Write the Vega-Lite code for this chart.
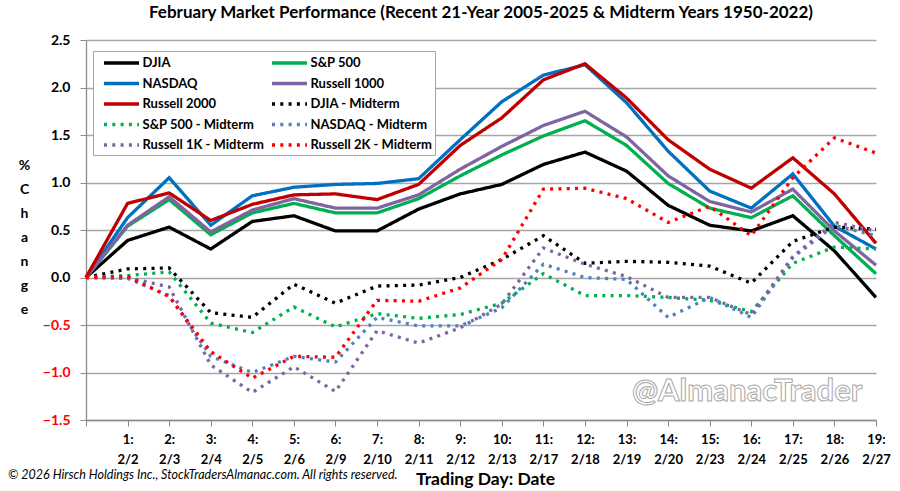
{
  "$schema": "https://vega.github.io/schema/vega-lite/v6.json",
  "width": 790,
  "height": 380,
  "autosize": {"type": "none"},
  "padding": {"left": 86, "top": 40, "right": 24, "bottom": 71},
  "background": "white",
  "config": {
    "font": "Lato, sans-serif",
    "view": {"stroke": null}
  },
  "title": {
    "text": "February Market Performance (Recent 21-Year 2005-2025 & Midterm Years 1950-2022)",
    "fontSize": 17,
    "fontWeight": "bold",
    "color": "black",
    "anchor": "middle",
    "offset": 11
  },
  "layer": [
    {
      "data": {
        "values": [
          {"series":"DJIA","day":0,"value":0},{"series":"DJIA","day":1,"value":0.39},{"series":"DJIA","day":2,"value":0.53},{"series":"DJIA","day":3,"value":0.30},{"series":"DJIA","day":4,"value":0.59},{"series":"DJIA","day":5,"value":0.65},{"series":"DJIA","day":6,"value":0.49},{"series":"DJIA","day":7,"value":0.49},{"series":"DJIA","day":8,"value":0.72},{"series":"DJIA","day":9,"value":0.88},{"series":"DJIA","day":10,"value":0.98},{"series":"DJIA","day":11,"value":1.19},{"series":"DJIA","day":12,"value":1.32},{"series":"DJIA","day":13,"value":1.12},{"series":"DJIA","day":14,"value":0.76},{"series":"DJIA","day":15,"value":0.55},{"series":"DJIA","day":16,"value":0.49},{"series":"DJIA","day":17,"value":0.65},{"series":"DJIA","day":18,"value":0.28},{"series":"DJIA","day":19,"value":-0.21},
          {"series":"S&P 500","day":0,"value":0},{"series":"S&P 500","day":1,"value":0.54},{"series":"S&P 500","day":2,"value":0.82},{"series":"S&P 500","day":3,"value":0.45},{"series":"S&P 500","day":4,"value":0.68},{"series":"S&P 500","day":5,"value":0.78},{"series":"S&P 500","day":6,"value":0.68},{"series":"S&P 500","day":7,"value":0.68},{"series":"S&P 500","day":8,"value":0.83},{"series":"S&P 500","day":9,"value":1.07},{"series":"S&P 500","day":10,"value":1.29},{"series":"S&P 500","day":11,"value":1.49},{"series":"S&P 500","day":12,"value":1.65},{"series":"S&P 500","day":13,"value":1.39},{"series":"S&P 500","day":14,"value":0.99},{"series":"S&P 500","day":15,"value":0.73},{"series":"S&P 500","day":16,"value":0.63},{"series":"S&P 500","day":17,"value":0.86},{"series":"S&P 500","day":18,"value":0.44},{"series":"S&P 500","day":19,"value":0.04},
          {"series":"NASDAQ","day":0,"value":0},{"series":"NASDAQ","day":1,"value":0.63},{"series":"NASDAQ","day":2,"value":1.05},{"series":"NASDAQ","day":3,"value":0.55},{"series":"NASDAQ","day":4,"value":0.86},{"series":"NASDAQ","day":5,"value":0.95},{"series":"NASDAQ","day":6,"value":0.98},{"series":"NASDAQ","day":7,"value":0.99},{"series":"NASDAQ","day":8,"value":1.04},{"series":"NASDAQ","day":9,"value":1.45},{"series":"NASDAQ","day":10,"value":1.85},{"series":"NASDAQ","day":11,"value":2.13},{"series":"NASDAQ","day":12,"value":2.24},{"series":"NASDAQ","day":13,"value":1.84},{"series":"NASDAQ","day":14,"value":1.33},{"series":"NASDAQ","day":15,"value":0.91},{"series":"NASDAQ","day":16,"value":0.73},{"series":"NASDAQ","day":17,"value":1.09},{"series":"NASDAQ","day":18,"value":0.54},{"series":"NASDAQ","day":19,"value":0.30},
          {"series":"Russell 1000","day":0,"value":0},{"series":"Russell 1000","day":1,"value":0.55},{"series":"Russell 1000","day":2,"value":0.85},{"series":"Russell 1000","day":3,"value":0.48},{"series":"Russell 1000","day":4,"value":0.71},{"series":"Russell 1000","day":5,"value":0.83},{"series":"Russell 1000","day":6,"value":0.73},{"series":"Russell 1000","day":7,"value":0.73},{"series":"Russell 1000","day":8,"value":0.87},{"series":"Russell 1000","day":9,"value":1.14},{"series":"Russell 1000","day":10,"value":1.38},{"series":"Russell 1000","day":11,"value":1.60},{"series":"Russell 1000","day":12,"value":1.75},{"series":"Russell 1000","day":13,"value":1.48},{"series":"Russell 1000","day":14,"value":1.07},{"series":"Russell 1000","day":15,"value":0.80},{"series":"Russell 1000","day":16,"value":0.69},{"series":"Russell 1000","day":17,"value":0.93},{"series":"Russell 1000","day":18,"value":0.49},{"series":"Russell 1000","day":19,"value":0.13},
          {"series":"Russell 2000","day":0,"value":0},{"series":"Russell 2000","day":1,"value":0.78},{"series":"Russell 2000","day":2,"value":0.89},{"series":"Russell 2000","day":3,"value":0.60},{"series":"Russell 2000","day":4,"value":0.77},{"series":"Russell 2000","day":5,"value":0.87},{"series":"Russell 2000","day":6,"value":0.88},{"series":"Russell 2000","day":7,"value":0.82},{"series":"Russell 2000","day":8,"value":0.98},{"series":"Russell 2000","day":9,"value":1.39},{"series":"Russell 2000","day":10,"value":1.68},{"series":"Russell 2000","day":11,"value":2.08},{"series":"Russell 2000","day":12,"value":2.25},{"series":"Russell 2000","day":13,"value":1.89},{"series":"Russell 2000","day":14,"value":1.45},{"series":"Russell 2000","day":15,"value":1.14},{"series":"Russell 2000","day":16,"value":0.94},{"series":"Russell 2000","day":17,"value":1.26},{"series":"Russell 2000","day":18,"value":0.88},{"series":"Russell 2000","day":19,"value":0.36},
          {"series":"DJIA - Midterm","day":0,"value":0},{"series":"DJIA - Midterm","day":1,"value":0.09},{"series":"DJIA - Midterm","day":2,"value":0.10},{"series":"DJIA - Midterm","day":3,"value":-0.37},{"series":"DJIA - Midterm","day":4,"value":-0.42},{"series":"DJIA - Midterm","day":5,"value":-0.07},{"series":"DJIA - Midterm","day":6,"value":-0.27},{"series":"DJIA - Midterm","day":7,"value":-0.09},{"series":"DJIA - Midterm","day":8,"value":-0.08},{"series":"DJIA - Midterm","day":9,"value":0.00},{"series":"DJIA - Midterm","day":10,"value":0.19},{"series":"DJIA - Midterm","day":11,"value":0.44},{"series":"DJIA - Midterm","day":12,"value":0.15},{"series":"DJIA - Midterm","day":13,"value":0.17},{"series":"DJIA - Midterm","day":14,"value":0.16},{"series":"DJIA - Midterm","day":15,"value":0.12},{"series":"DJIA - Midterm","day":16,"value":-0.06},{"series":"DJIA - Midterm","day":17,"value":0.38},{"series":"DJIA - Midterm","day":18,"value":0.53},{"series":"DJIA - Midterm","day":19,"value":0.51},
          {"series":"S&P 500 - Midterm","day":0,"value":0},{"series":"S&P 500 - Midterm","day":1,"value":0.02},{"series":"S&P 500 - Midterm","day":2,"value":0.06},{"series":"S&P 500 - Midterm","day":3,"value":-0.48},{"series":"S&P 500 - Midterm","day":4,"value":-0.58},{"series":"S&P 500 - Midterm","day":5,"value":-0.31},{"series":"S&P 500 - Midterm","day":6,"value":-0.52},{"series":"S&P 500 - Midterm","day":7,"value":-0.38},{"series":"S&P 500 - Midterm","day":8,"value":-0.43},{"series":"S&P 500 - Midterm","day":9,"value":-0.39},{"series":"S&P 500 - Midterm","day":10,"value":-0.27},{"series":"S&P 500 - Midterm","day":11,"value":0.04},{"series":"S&P 500 - Midterm","day":12,"value":-0.19},{"series":"S&P 500 - Midterm","day":13,"value":-0.19},{"series":"S&P 500 - Midterm","day":14,"value":-0.21},{"series":"S&P 500 - Midterm","day":15,"value":-0.24},{"series":"S&P 500 - Midterm","day":16,"value":-0.36},{"series":"S&P 500 - Midterm","day":17,"value":0.15},{"series":"S&P 500 - Midterm","day":18,"value":0.32},{"series":"S&P 500 - Midterm","day":19,"value":0.30},
          {"series":"NASDAQ - Midterm","day":0,"value":0},{"series":"NASDAQ - Midterm","day":1,"value":-0.01},{"series":"NASDAQ - Midterm","day":2,"value":-0.19},{"series":"NASDAQ - Midterm","day":3,"value":-0.83},{"series":"NASDAQ - Midterm","day":4,"value":-1.00},{"series":"NASDAQ - Midterm","day":5,"value":-0.83},{"series":"NASDAQ - Midterm","day":6,"value":-0.89},{"series":"NASDAQ - Midterm","day":7,"value":-0.42},{"series":"NASDAQ - Midterm","day":8,"value":-0.51},{"series":"NASDAQ - Midterm","day":9,"value":-0.51},{"series":"NASDAQ - Midterm","day":10,"value":-0.32},{"series":"NASDAQ - Midterm","day":11,"value":0.14},{"series":"NASDAQ - Midterm","day":12,"value":0.00},{"series":"NASDAQ - Midterm","day":13,"value":-0.02},{"series":"NASDAQ - Midterm","day":14,"value":-0.42},{"series":"NASDAQ - Midterm","day":15,"value":-0.21},{"series":"NASDAQ - Midterm","day":16,"value":-0.42},{"series":"NASDAQ - Midterm","day":17,"value":0.21},{"series":"NASDAQ - Midterm","day":18,"value":0.55},{"series":"NASDAQ - Midterm","day":19,"value":0.44},
          {"series":"Russell 1K - Midterm","day":0,"value":0},{"series":"Russell 1K - Midterm","day":1,"value":0.00},{"series":"Russell 1K - Midterm","day":2,"value":-0.10},{"series":"Russell 1K - Midterm","day":3,"value":-0.92},{"series":"Russell 1K - Midterm","day":4,"value":-1.21},{"series":"Russell 1K - Midterm","day":5,"value":-0.94},{"series":"Russell 1K - Midterm","day":6,"value":-1.20},{"series":"Russell 1K - Midterm","day":7,"value":-0.56},{"series":"Russell 1K - Midterm","day":8,"value":-0.69},{"series":"Russell 1K - Midterm","day":9,"value":-0.53},{"series":"Russell 1K - Midterm","day":10,"value":-0.28},{"series":"Russell 1K - Midterm","day":11,"value":0.31},{"series":"Russell 1K - Midterm","day":12,"value":0.14},{"series":"Russell 1K - Midterm","day":13,"value":0.01},{"series":"Russell 1K - Midterm","day":14,"value":-0.21},{"series":"Russell 1K - Midterm","day":15,"value":-0.21},{"series":"Russell 1K - Midterm","day":16,"value":-0.39},{"series":"Russell 1K - Midterm","day":17,"value":0.22},{"series":"Russell 1K - Midterm","day":18,"value":0.58},{"series":"Russell 1K - Midterm","day":19,"value":0.49},
          {"series":"Russell 2K - Midterm","day":0,"value":0},{"series":"Russell 2K - Midterm","day":1,"value":0.01},{"series":"Russell 2K - Midterm","day":2,"value":-0.20},{"series":"Russell 2K - Midterm","day":3,"value":-0.78},{"series":"Russell 2K - Midterm","day":4,"value":-1.06},{"series":"Russell 2K - Midterm","day":5,"value":-0.83},{"series":"Russell 2K - Midterm","day":6,"value":-0.84},{"series":"Russell 2K - Midterm","day":7,"value":-0.24},{"series":"Russell 2K - Midterm","day":8,"value":-0.25},{"series":"Russell 2K - Midterm","day":9,"value":-0.11},{"series":"Russell 2K - Midterm","day":10,"value":0.19},{"series":"Russell 2K - Midterm","day":11,"value":0.93},{"series":"Russell 2K - Midterm","day":12,"value":0.94},{"series":"Russell 2K - Midterm","day":13,"value":0.83},{"series":"Russell 2K - Midterm","day":14,"value":0.58},{"series":"Russell 2K - Midterm","day":15,"value":0.75},{"series":"Russell 2K - Midterm","day":16,"value":0.44},{"series":"Russell 2K - Midterm","day":17,"value":1.05},{"series":"Russell 2K - Midterm","day":18,"value":1.47},{"series":"Russell 2K - Midterm","day":19,"value":1.31}
        ]
      },
      "mark": {"type": "line", "strokeWidth": 3.3, "strokeJoin": "miter"},
      "encoding": {
        "x": {
          "field": "day",
          "type": "quantitative",
          "scale": {"domain": [0, 19], "nice": false, "zero": false},
          "axis": {
            "values": [0,1,2,3,4,5,6,7,8,9,10,11,12,13,14,15,16,17,18,19],
            "grid": false,
            "domainColor": "#8c8c8c",
            "domainWidth": 1.3,
            "tickColor": "#8c8c8c",
            "tickSize": 6,
            "labelExpr": "datum.value == 0 ? '' : [datum.value + ':', ['','2/2','2/3','2/4','2/5','2/6','2/9','2/10','2/11','2/12','2/13','2/17','2/18','2/19','2/20','2/23','2/24','2/25','2/26','2/27'][datum.value]]",
            "labelFontSize": 13,
            "labelFontWeight": "bold",
            "labelColor": "black",
            "labelBaseline": "top",
            "labelLineHeight": 20,
            "labelPadding": 7,
            "labelOverlap": false,
            "labelFlush": false,
            "title": "Trading Day: Date",
            "titleFontSize": 17.5,
            "titleFontWeight": "bold",
            "titleColor": "black",
            "titleX": 399,
            "titleY": 64,
            "titleAlign": "center",
            "titleBaseline": "alphabetic"
          }
        },
        "y": {
          "field": "value",
          "type": "quantitative",
          "scale": {"domain": [-1.5, 2.5], "nice": false},
          "axis": {
            "values": [-1.5, -1, -0.5, 0, 0.5, 1, 1.5, 2, 2.5],
            "format": ".1f",
            "grid": true,
            "gridColor": "#a6a6a6",
            "gridWidth": 1.3,
            "domainColor": "#8c8c8c",
            "domainWidth": 1.3,
            "tickColor": "#8c8c8c",
            "tickSize": 6,
            "labelFontSize": 14,
            "labelFontWeight": "bold",
            "labelColor": {"condition": {"test": "datum.value < 0", "value": "#ff0000"}, "value": "black"},
            "labelPadding": 10,
            "title": ["%", "C", "h", "a", "n", "g", "e"],
            "titleAngle": 0,
            "titleFontSize": 14,
            "titleFontWeight": "bold",
            "titleColor": "black",
            "titleLineHeight": 24,
            "titleAlign": "center",
            "titleBaseline": "top",
            "titleX": -62,
            "titleY": 118
          }
        },
        "color": {
          "field": "series",
          "type": "nominal",
          "scale": {
            "domain": ["DJIA", "NASDAQ", "Russell 2000", "S&P 500 - Midterm", "Russell 1K - Midterm", "S&P 500", "Russell 1000", "DJIA - Midterm", "NASDAQ - Midterm", "Russell 2K - Midterm"],
            "range": ["#000000", "#0070c0", "#c00000", "#00b050", "#8064a2", "#00b050", "#8064a2", "#000000", "#4f81bd", "#ff0000"]
          },
          "legend": {
            "title": null,
            "orient": "none",
            "legendX": 7,
            "legendY": 11,
            "columns": 2,
            "direction": "vertical",
            "padding": 3,
            "rowPadding": 4.5,
            "columnPadding": 0,
            "fillColor": "white",
            "strokeColor": "#a6a6a6",
            "symbolType": "M-2.5,0H2.5",
            "symbolSize": 196,
            "symbolOffset": 16.5,
            "symbolStrokeWidth": 3.5,
            "labelFontSize": 13,
            "labelFontWeight": "bold",
            "labelColor": "black",
            "labelOffset": 12,
            "labelLimit": 300
          }
        },
        "strokeDash": {
          "field": "series",
          "type": "nominal",
          "scale": {
            "domain": ["DJIA", "NASDAQ", "Russell 2000", "S&P 500 - Midterm", "Russell 1K - Midterm", "S&P 500", "Russell 1000", "DJIA - Midterm", "NASDAQ - Midterm", "Russell 2K - Midterm"],
            "range": [[1, 0], [1, 0], [1, 0], [3, 5.3], [3, 5.3], [1, 0], [1, 0], [3, 5.3], [3, 5.3], [3, 5.3]]
          }
        },
        "order": {"field": "day", "type": "quantitative"}
      }
    },
    {
      "data": {"values": [{"label": "@AlmanacTrader"}]},
      "mark": {"type": "text", "align": "center", "baseline": "middle", "fontSize": 31, "fontWeight": "bold", "fill": "white", "stroke": "#a8a8a8", "strokeWidth": 1},
      "encoding": {
        "x": {"datum": 15.9, "type": "quantitative"},
        "y": {"datum": -1.2, "type": "quantitative"},
        "text": {"field": "label", "type": "nominal"}
      }
    },
    {
      "data": {"values": [{"label": "© 2026 Hirsch Holdings Inc., StockTradersAlmanac.com. All rights reserved."}]},
      "mark": {"type": "text", "align": "left", "baseline": "middle", "fontSize": 12.5, "fontStyle": "italic", "color": "black"},
      "encoding": {
        "x": {"datum": -1.875, "type": "quantitative"},
        "y": {"datum": -2.08, "type": "quantitative"},
        "text": {"field": "label", "type": "nominal"}
      }
    }
  ]
}
